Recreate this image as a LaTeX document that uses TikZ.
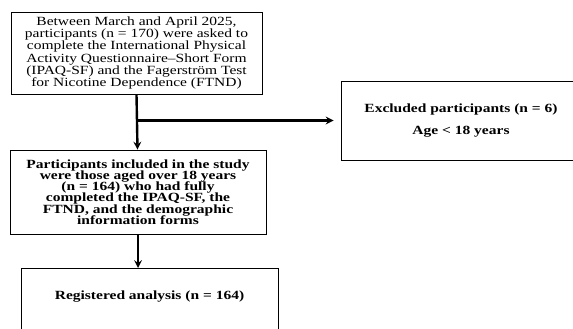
\documentclass[tikz,border=0pt]{standalone}
\usepackage{fontspec}
\setmainfont{Liberation Serif}[FakeStretch=1.24]
\usetikzlibrary{arrows,positioning}
\newcommand{\tightlines}{\setlength{\lineskiplimit}{-20pt}}

\begin{document}
\begin{tikzpicture}[x=1pt,y=-1pt]
            \tikzstyle{box} = [draw,line width=0.9pt,align=center,inner sep=0pt,font=\fontsize{12.5}{12.1}\selectfont\tightlines]
            \tikzstyle{arrow} = [line width=2.4pt,->,>=stealth]

            \useasboundingbox (0,0) rectangle (573,329);
            \clip (0,0) rectangle (573,329);

            \node[box,minimum width=251pt,minimum height=82pt] (start) at (136.5,53)
                {Between March and April 2025,\\participants (n = 170) were asked to\\complete the International Physical\\Activity Questionnaire--Short Form\\(IPAQ-SF) and the Fagerström Test\\for Nicotine Dependence (FTND)};
            \node[box,font=\bfseries\fontsize{12.5}{11.3}\selectfont\tightlines,minimum width=256pt,minimum height=84pt] (incl) at (138,192)
                {Participants included in the study\\were those aged over 18 years\\(n = 164) who had fully\\completed the IPAQ-SF, the\\FTND, and the demographic\\information forms};
            \node[box,font=\bfseries\fontsize{12.5}{22}\selectfont,minimum width=240pt,minimum height=79pt] (excl) at (461,120.5)
                {Excluded participants (n = 6)\\Age < 18 years};
            \node[box,font=\bfseries\fontsize{12.5}{12}\selectfont,minimum width=257pt,text height=31pt,text depth=45pt,anchor=north] (reg) at (149.5,268)
                {Registered analysis (n = 164)};

            \coordinate (split) at (start.south |- excl.west);
            \draw [arrow] (start.south) -- ([xshift=1pt]incl.north -| start.south);
            \draw [arrow] (split) -- ([xshift=-7pt]excl.west);
            \draw [arrow] (incl.south) -- (incl.south |- reg.north);
        \end{tikzpicture}
\end{document}
